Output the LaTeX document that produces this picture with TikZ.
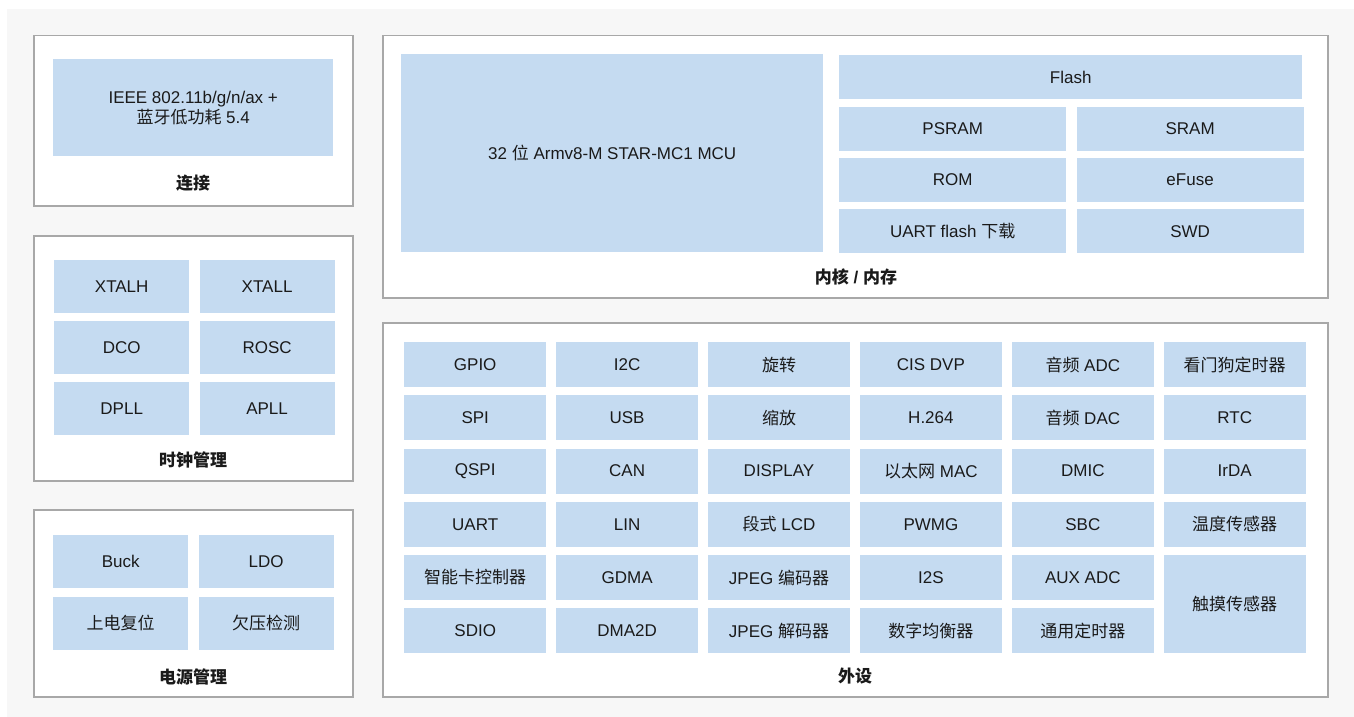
\documentclass[tikz,border=0pt]{standalone}
\usepackage{fontspec}
\setmainfont{Liberation Sans}
\newfontfamily\cjk{Noto Sans CJK SC}
\usetikzlibrary{positioning}
\definecolor{cellBlue}{HTML}{C5DBF1}
\definecolor{frameGray}{HTML}{A8A8A8}
\definecolor{pageGray}{HTML}{F7F7F7}
\definecolor{inkBlack}{HTML}{1A1A1A}

\begin{document}
\begin{tikzpicture}[x=1pt,y=-1pt,
  panel/.style={draw=frameGray,line width=1.5pt,fill=white,anchor=north west,inner sep=0pt},
  cell/.style={fill=cellBlue,text=inkBlack,inner sep=0pt,align=center,anchor=north west,font=\fontsize{17}{20}\selectfont},
  clk/.style={cell,minimum width=135pt,minimum height=53pt},
  mem/.style={cell,minimum width=227pt,minimum height=44pt},
  per/.style={cell,minimum width=142pt,minimum height=45pt},
  title/.style={text=inkBlack,font=\fontsize{17}{20}\selectfont\bfseries},
  node distance=7.5pt and 10pt]
\useasboundingbox (0,0) rectangle (1354,717);
\fill[pageGray] (7,9) rectangle (1354,717);
% frames
\node[panel,minimum width=319pt,minimum height=170pt] (connFrame) at (33,35) {};
\node[panel,minimum width=319pt,minimum height=245pt] (clockFrame) at (33,235) {};
\node[panel,minimum width=319pt,minimum height=187pt] (powerFrame) at (33,509) {};
\node[panel,minimum width=945pt,minimum height=262pt] (coreFrame) at (382,35) {};
\node[panel,minimum width=945pt,minimum height=374pt] (periFrame) at (382,322) {};
% connectivity
\node[cell,minimum width=280pt,minimum height=97pt] (wifi) at (53,59) {IEEE 802.11b/g/n/ax +\\{\cjk 蓝牙低功耗} 5.4};
\node[title] (connTitle) at (193,183) {\cjk 连接};
% clock
\node[clk] (xtalh) at (54,260) {XTALH};
\node[clk,right=of xtalh] (xtall) {XTALL};
\node[clk,below=of xtalh] (dco) {DCO};
\node[clk,right=of dco] (rosc) {ROSC};
\node[clk,below=of dco] (dpll) {DPLL};
\node[clk,right=of dpll] (apll) {APLL};
\node[title] (clockTitle) at (193,460) {\cjk 时钟管理};
% power
\node[clk] (buck) at (53,535) {Buck};
\node[clk,right=of buck] (ldo) {LDO};
\node[clk,below=8pt of buck] (por) {\cjk 上电复位};
\node[clk,right=of por] (bod) {\cjk 欠压检测};
\node[title] (powerTitle) at (193,677) {\cjk 电源管理};
% core / memory
\node[cell,minimum width=422pt,minimum height=198pt] (mcu) at (401,54) {32 {\cjk 位} Armv8-M STAR-MC1 MCU};
\node[cell,minimum width=463pt,minimum height=44pt] (flash) at (839,55) {Flash};
\node[mem,below=7pt of flash.south west,anchor=north west] (psram) {PSRAM};
\node[mem,right=of psram] (sram) {SRAM};
\node[mem,below=7pt of psram] (rom) {ROM};
\node[mem,right=of rom] (efuse) {eFuse};
\node[mem,below=7pt of rom] (uartdl) {UART flash {\cjk 下载}};
\node[mem,right=of uartdl] (swd) {SWD};
\node[title] (coreTitle) at (856,277) {{\cjk 内核} / {\cjk 内存}};
% peripherals
\begin{scope}[node distance=7.8pt and 9.5pt]
\node[per] (gpio) at (404,342) {GPIO};
\node[per,right=of gpio] (iic) {I2C};
\node[per,right=of iic] (rot) {\cjk 旋转};
\node[per,right=of rot] (cis) {CIS DVP};
\node[per,right=of cis] (aadc) {{\cjk 音频} ADC};
\node[per,right=of aadc] (wdt) {\cjk 看门狗定时器};
\node[per,below=of gpio] (spi) {SPI};
\node[per,right=of spi] (usb) {USB};
\node[per,right=of usb] (zoom) {\cjk 缩放};
\node[per,right=of zoom] (avc) {H.264};
\node[per,right=of avc] (adac) {{\cjk 音频} DAC};
\node[per,right=of adac] (rtc) {RTC};
\node[per,below=of spi] (qspi) {QSPI};
\node[per,right=of qspi] (can) {CAN};
\node[per,right=of can] (disp) {DISPLAY};
\node[per,right=of disp] (eth) {{\cjk 以太网} MAC};
\node[per,right=of eth] (dmic) {DMIC};
\node[per,right=of dmic] (irda) {IrDA};
\node[per,below=of qspi] (uart) {UART};
\node[per,right=of uart] (lin) {LIN};
\node[per,right=of lin] (lcd) {{\cjk 段式} LCD};
\node[per,right=of lcd] (pwmg) {PWMG};
\node[per,right=of pwmg] (sbc) {SBC};
\node[per,right=of sbc] (temp) {\cjk 温度传感器};
\node[per,below=of uart] (card) {\cjk 智能卡控制器};
\node[per,right=of card] (gdma) {GDMA};
\node[per,right=of gdma] (jenc) {JPEG {\cjk 编码器}};
\node[per,right=of jenc] (iis) {I2S};
\node[per,right=of iis] (auxadc) {AUX ADC};
\node[per,below=of temp,minimum height=97.8pt] (touch) {\cjk 触摸传感器};
\node[per,below=of card] (sdio) {SDIO};
\node[per,right=of sdio] (dmad) {DMA2D};
\node[per,right=of dmad] (jdec) {JPEG {\cjk 解码器}};
\node[per,right=of jdec] (eq) {\cjk 数字均衡器};
\node[per,right=of eq] (gpt) {\cjk 通用定时器};
\end{scope}
\node[title] (periTitle) at (855,676) {\cjk 外设};
\end{tikzpicture}
\end{document}
